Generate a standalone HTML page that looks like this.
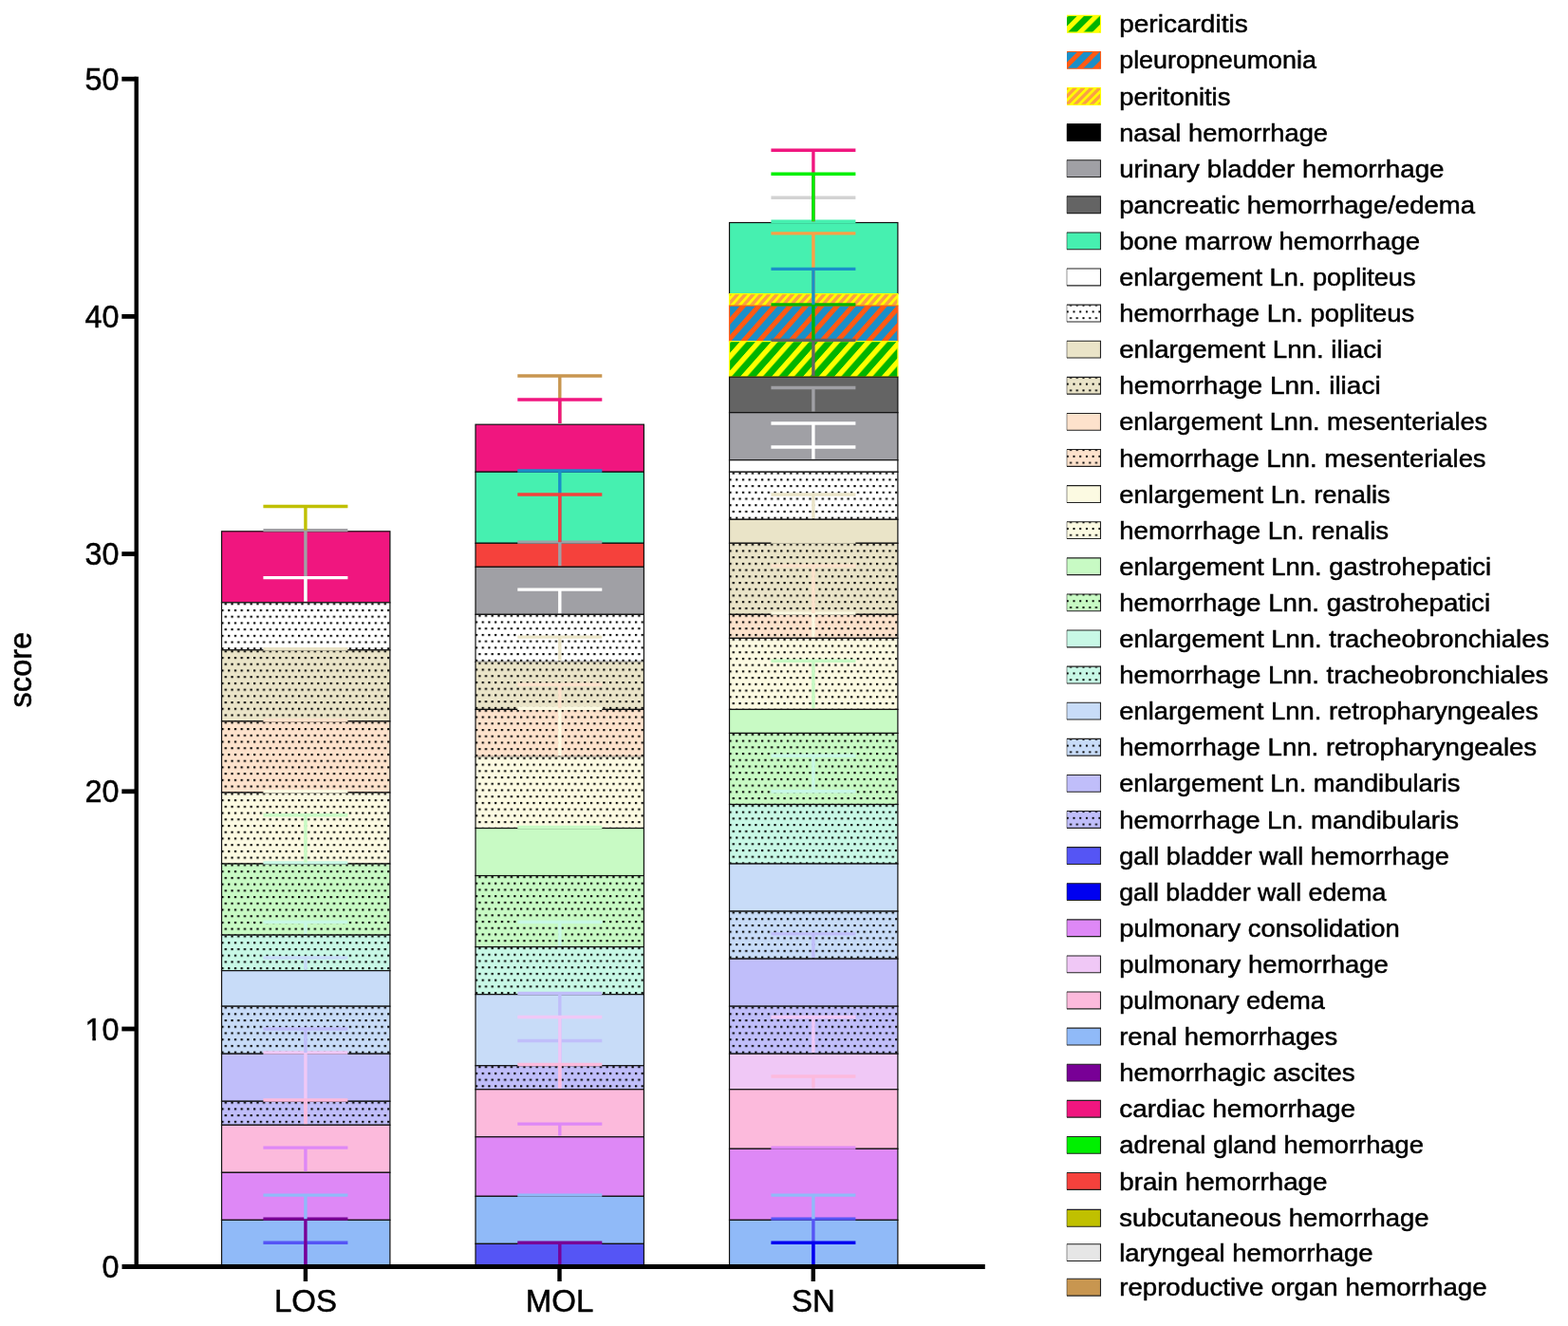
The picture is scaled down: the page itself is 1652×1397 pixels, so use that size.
<!DOCTYPE html>
<html><head><meta charset="utf-8"><title>score</title>
<style>
html,body{margin:0;padding:0;background:#fff;}
body{width:1652px;height:1397px;overflow:hidden;}
svg{display:block;}
text{font-family:"Liberation Sans",Arial,Helvetica,sans-serif;fill:#000;stroke:#000;stroke-width:0.5px;}
</style></head><body>
<svg width="1652" height="1397" viewBox="0 0 1652 1397">
<defs>

<pattern id="h_pericarditis" patternUnits="userSpaceOnUse" width="16.5" height="40" patternTransform="translate(780.2,359.12) skewX(-41.5)"><rect width="16.5" height="40" fill="#00B400"/><rect x="0" width="7.26" height="40" fill="#FFFF00"/></pattern>
<pattern id="h_pleuro" patternUnits="userSpaceOnUse" width="16.5" height="40" patternTransform="translate(780.2,321.59) skewX(-41.5)"><rect width="16.5" height="40" fill="#1A8FC8"/><rect x="0" width="6.93" height="40" fill="#FF5A14"/></pattern>
<pattern id="h_peritonitis" patternUnits="userSpaceOnUse" width="8.3" height="40" patternTransform="translate(780.2,309.08) skewX(-41.5)"><rect width="8.3" height="40" fill="#FAA046"/><rect x="0" width="3.74" height="40" fill="#FFFF00"/></pattern>
</defs>
<rect width="1652" height="1397" fill="#fff"/>

<rect x="233.50" y="559.78" width="177.4" height="75.06" fill="#F0167F"/>
<rect x="233.50" y="559.78" width="177.4" height="75.06" fill="none" stroke="#111" stroke-width="1.2"/>
<rect x="233.50" y="634.84" width="177.4" height="50.04" fill="url(#d0)"/>
<rect x="233.50" y="634.84" width="177.4" height="50.04" fill="none" stroke="#111" stroke-width="1.2"/>
<rect x="233.50" y="684.88" width="177.4" height="75.06" fill="url(#d1)"/>
<rect x="233.50" y="684.88" width="177.4" height="75.06" fill="none" stroke="#111" stroke-width="1.2"/>
<rect x="233.50" y="759.94" width="177.4" height="75.06" fill="url(#d2)"/>
<rect x="233.50" y="759.94" width="177.4" height="75.06" fill="none" stroke="#111" stroke-width="1.2"/>
<rect x="233.50" y="835.00" width="177.4" height="75.06" fill="url(#d3)"/>
<rect x="233.50" y="835.00" width="177.4" height="75.06" fill="none" stroke="#111" stroke-width="1.2"/>
<rect x="233.50" y="910.06" width="177.4" height="75.06" fill="url(#d4)"/>
<rect x="233.50" y="910.06" width="177.4" height="75.06" fill="none" stroke="#111" stroke-width="1.2"/>
<rect x="233.50" y="985.12" width="177.4" height="37.53" fill="url(#d5)"/>
<rect x="233.50" y="985.12" width="177.4" height="37.53" fill="none" stroke="#111" stroke-width="1.2"/>
<rect x="233.50" y="1022.65" width="177.4" height="37.53" fill="#C8DCF8"/>
<rect x="233.50" y="1022.65" width="177.4" height="37.53" fill="none" stroke="#111" stroke-width="1.2"/>
<rect x="233.50" y="1060.18" width="177.4" height="50.04" fill="url(#d6)"/>
<rect x="233.50" y="1060.18" width="177.4" height="50.04" fill="none" stroke="#111" stroke-width="1.2"/>
<rect x="233.50" y="1110.22" width="177.4" height="50.04" fill="#C0BEFA"/>
<rect x="233.50" y="1110.22" width="177.4" height="50.04" fill="none" stroke="#111" stroke-width="1.2"/>
<rect x="233.50" y="1160.26" width="177.4" height="25.02" fill="url(#d7)"/>
<rect x="233.50" y="1160.26" width="177.4" height="25.02" fill="none" stroke="#111" stroke-width="1.2"/>
<rect x="233.50" y="1185.28" width="177.4" height="50.04" fill="#FCBADC"/>
<rect x="233.50" y="1185.28" width="177.4" height="50.04" fill="none" stroke="#111" stroke-width="1.2"/>
<rect x="233.50" y="1235.32" width="177.4" height="50.04" fill="#DE88F6"/>
<rect x="233.50" y="1235.32" width="177.4" height="50.04" fill="none" stroke="#111" stroke-width="1.2"/>
<rect x="233.50" y="1285.36" width="177.4" height="50.04" fill="#90BAF8"/>
<rect x="233.50" y="1285.36" width="177.4" height="50.04" fill="none" stroke="#111" stroke-width="1.2"/>
<rect x="501.00" y="447.19" width="177.4" height="50.04" fill="#F0167F"/>
<rect x="501.00" y="447.19" width="177.4" height="50.04" fill="none" stroke="#111" stroke-width="1.2"/>
<rect x="501.00" y="497.23" width="177.4" height="75.06" fill="#46F0B0"/>
<rect x="501.00" y="497.23" width="177.4" height="75.06" fill="none" stroke="#111" stroke-width="1.2"/>
<rect x="501.00" y="572.29" width="177.4" height="25.02" fill="#F5413C"/>
<rect x="501.00" y="572.29" width="177.4" height="25.02" fill="none" stroke="#111" stroke-width="1.2"/>
<rect x="501.00" y="597.31" width="177.4" height="50.04" fill="#A0A0A5"/>
<rect x="501.00" y="597.31" width="177.4" height="50.04" fill="none" stroke="#111" stroke-width="1.2"/>
<rect x="501.00" y="647.35" width="177.4" height="50.04" fill="url(#d8)"/>
<rect x="501.00" y="647.35" width="177.4" height="50.04" fill="none" stroke="#111" stroke-width="1.2"/>
<rect x="501.00" y="697.39" width="177.4" height="50.04" fill="url(#d9)"/>
<rect x="501.00" y="697.39" width="177.4" height="50.04" fill="none" stroke="#111" stroke-width="1.2"/>
<rect x="501.00" y="747.43" width="177.4" height="50.04" fill="url(#d10)"/>
<rect x="501.00" y="747.43" width="177.4" height="50.04" fill="none" stroke="#111" stroke-width="1.2"/>
<rect x="501.00" y="797.47" width="177.4" height="75.06" fill="url(#d11)"/>
<rect x="501.00" y="797.47" width="177.4" height="75.06" fill="none" stroke="#111" stroke-width="1.2"/>
<rect x="501.00" y="872.53" width="177.4" height="50.04" fill="#C8FAC4"/>
<rect x="501.00" y="872.53" width="177.4" height="50.04" fill="none" stroke="#111" stroke-width="1.2"/>
<rect x="501.00" y="922.57" width="177.4" height="75.06" fill="url(#d12)"/>
<rect x="501.00" y="922.57" width="177.4" height="75.06" fill="none" stroke="#111" stroke-width="1.2"/>
<rect x="501.00" y="997.63" width="177.4" height="50.04" fill="url(#d13)"/>
<rect x="501.00" y="997.63" width="177.4" height="50.04" fill="none" stroke="#111" stroke-width="1.2"/>
<rect x="501.00" y="1047.67" width="177.4" height="75.06" fill="#C8DCF8"/>
<rect x="501.00" y="1047.67" width="177.4" height="75.06" fill="none" stroke="#111" stroke-width="1.2"/>
<rect x="501.00" y="1122.73" width="177.4" height="25.02" fill="url(#d14)"/>
<rect x="501.00" y="1122.73" width="177.4" height="25.02" fill="none" stroke="#111" stroke-width="1.2"/>
<rect x="501.00" y="1147.75" width="177.4" height="50.04" fill="#FCBADC"/>
<rect x="501.00" y="1147.75" width="177.4" height="50.04" fill="none" stroke="#111" stroke-width="1.2"/>
<rect x="501.00" y="1197.79" width="177.4" height="62.55" fill="#DE88F6"/>
<rect x="501.00" y="1197.79" width="177.4" height="62.55" fill="none" stroke="#111" stroke-width="1.2"/>
<rect x="501.00" y="1260.34" width="177.4" height="50.04" fill="#90BAF8"/>
<rect x="501.00" y="1260.34" width="177.4" height="50.04" fill="none" stroke="#111" stroke-width="1.2"/>
<rect x="501.00" y="1310.38" width="177.4" height="25.02" fill="#5555F5"/>
<rect x="501.00" y="1310.38" width="177.4" height="25.02" fill="none" stroke="#111" stroke-width="1.2"/>
<rect x="501.65" y="796.77" width="176.10" height="0.7" fill="url(#d15)"/>
<rect x="501.65" y="797.47" width="176.10" height="0.7" fill="url(#d16)"/>
<rect x="501.65" y="696.69" width="176.10" height="0.7" fill="url(#d17)"/>
<rect x="501.65" y="697.39" width="176.10" height="0.7" fill="url(#d18)"/>
<rect x="768.50" y="234.52" width="177.4" height="75.06" fill="#46F0B0"/>
<rect x="768.50" y="234.52" width="177.4" height="75.06" fill="none" stroke="#111" stroke-width="1.2"/>
<rect x="768.50" y="309.58" width="177.4" height="12.51" fill="url(#h_peritonitis)"/>
<rect x="768.50" y="309.58" width="177.4" height="12.51" fill="none" stroke="#FFFF00" stroke-width="1.2"/>
<rect x="768.50" y="322.09" width="177.4" height="37.53" fill="url(#h_pleuro)"/>
<rect x="768.50" y="322.09" width="177.4" height="37.53" fill="none" stroke="#FF5A14" stroke-width="1.2"/>
<rect x="768.50" y="359.62" width="177.4" height="37.53" fill="url(#h_pericarditis)"/>
<rect x="768.50" y="359.62" width="177.4" height="37.53" fill="none" stroke="#FFFF00" stroke-width="1.2"/>
<rect x="768.50" y="397.15" width="177.4" height="37.53" fill="#646464"/>
<rect x="768.50" y="397.15" width="177.4" height="37.53" fill="none" stroke="#111" stroke-width="1.2"/>
<rect x="768.50" y="434.68" width="177.4" height="50.04" fill="#A0A0A5"/>
<rect x="768.50" y="434.68" width="177.4" height="50.04" fill="none" stroke="#111" stroke-width="1.2"/>
<rect x="768.50" y="484.72" width="177.4" height="12.51" fill="#FFFFFF"/>
<rect x="768.50" y="484.72" width="177.4" height="12.51" fill="none" stroke="#111" stroke-width="1.2"/>
<rect x="768.50" y="497.23" width="177.4" height="50.04" fill="url(#d19)"/>
<rect x="768.50" y="497.23" width="177.4" height="50.04" fill="none" stroke="#111" stroke-width="1.2"/>
<rect x="768.50" y="547.27" width="177.4" height="25.02" fill="#EAE4C8"/>
<rect x="768.50" y="547.27" width="177.4" height="25.02" fill="none" stroke="#111" stroke-width="1.2"/>
<rect x="768.50" y="572.29" width="177.4" height="75.06" fill="url(#d20)"/>
<rect x="768.50" y="572.29" width="177.4" height="75.06" fill="none" stroke="#111" stroke-width="1.2"/>
<rect x="768.50" y="647.35" width="177.4" height="25.02" fill="url(#d21)"/>
<rect x="768.50" y="647.35" width="177.4" height="25.02" fill="none" stroke="#111" stroke-width="1.2"/>
<rect x="768.50" y="672.37" width="177.4" height="75.06" fill="url(#d22)"/>
<rect x="768.50" y="672.37" width="177.4" height="75.06" fill="none" stroke="#111" stroke-width="1.2"/>
<rect x="768.50" y="747.43" width="177.4" height="25.02" fill="#C8FAC4"/>
<rect x="768.50" y="747.43" width="177.4" height="25.02" fill="none" stroke="#111" stroke-width="1.2"/>
<rect x="768.50" y="772.45" width="177.4" height="75.06" fill="url(#d23)"/>
<rect x="768.50" y="772.45" width="177.4" height="75.06" fill="none" stroke="#111" stroke-width="1.2"/>
<rect x="768.50" y="847.51" width="177.4" height="62.55" fill="url(#d24)"/>
<rect x="768.50" y="847.51" width="177.4" height="62.55" fill="none" stroke="#111" stroke-width="1.2"/>
<rect x="768.50" y="910.06" width="177.4" height="50.04" fill="#C8DCF8"/>
<rect x="768.50" y="910.06" width="177.4" height="50.04" fill="none" stroke="#111" stroke-width="1.2"/>
<rect x="768.50" y="960.10" width="177.4" height="50.04" fill="url(#d25)"/>
<rect x="768.50" y="960.10" width="177.4" height="50.04" fill="none" stroke="#111" stroke-width="1.2"/>
<rect x="768.50" y="1010.14" width="177.4" height="50.04" fill="#C0BEFA"/>
<rect x="768.50" y="1010.14" width="177.4" height="50.04" fill="none" stroke="#111" stroke-width="1.2"/>
<rect x="768.50" y="1060.18" width="177.4" height="50.04" fill="url(#d26)"/>
<rect x="768.50" y="1060.18" width="177.4" height="50.04" fill="none" stroke="#111" stroke-width="1.2"/>
<rect x="768.50" y="1110.22" width="177.4" height="37.53" fill="#F0C8F6"/>
<rect x="768.50" y="1110.22" width="177.4" height="37.53" fill="none" stroke="#111" stroke-width="1.2"/>
<rect x="768.50" y="1147.75" width="177.4" height="62.55" fill="#FCBADC"/>
<rect x="768.50" y="1147.75" width="177.4" height="62.55" fill="none" stroke="#111" stroke-width="1.2"/>
<rect x="768.50" y="1210.30" width="177.4" height="75.06" fill="#DE88F6"/>
<rect x="768.50" y="1210.30" width="177.4" height="75.06" fill="none" stroke="#111" stroke-width="1.2"/>
<rect x="768.50" y="1285.36" width="177.4" height="50.04" fill="#90BAF8"/>
<rect x="768.50" y="1285.36" width="177.4" height="50.04" fill="none" stroke="#111" stroke-width="1.2"/>
<line x1="321.90" y1="1334.20" x2="321.90" y2="1309.18" stroke="#5555F5" stroke-width="3.4"/>
<line x1="277.40" y1="1309.18" x2="366.40" y2="1309.18" stroke="#5555F5" stroke-width="3.4"/>
<line x1="321.90" y1="1334.20" x2="321.90" y2="1284.16" stroke="#780096" stroke-width="3.4"/>
<line x1="277.40" y1="1284.16" x2="366.40" y2="1284.16" stroke="#780096" stroke-width="3.4"/>
<line x1="321.90" y1="1284.16" x2="321.90" y2="1259.14" stroke="#90BAF8" stroke-width="3.4"/>
<line x1="277.40" y1="1259.14" x2="366.40" y2="1259.14" stroke="#90BAF8" stroke-width="3.4"/>
<line x1="321.90" y1="1234.12" x2="321.90" y2="1209.10" stroke="#DE88F6" stroke-width="3.4"/>
<line x1="277.40" y1="1209.10" x2="366.40" y2="1209.10" stroke="#DE88F6" stroke-width="3.4"/>
<line x1="321.90" y1="1184.08" x2="321.90" y2="1109.02" stroke="#F0C8F6" stroke-width="3.4"/>
<line x1="277.40" y1="1109.02" x2="366.40" y2="1109.02" stroke="#F0C8F6" stroke-width="3.4"/>
<line x1="321.90" y1="1184.08" x2="321.90" y2="1159.06" stroke="#FCBADC" stroke-width="3.4"/>
<line x1="277.40" y1="1159.06" x2="366.40" y2="1159.06" stroke="#FCBADC" stroke-width="3.4"/>
<line x1="321.90" y1="1109.02" x2="321.90" y2="1084.00" stroke="#C0BEFA" stroke-width="3.4"/>
<line x1="277.40" y1="1084.00" x2="366.40" y2="1084.00" stroke="#C0BEFA" stroke-width="3.4"/>
<line x1="321.90" y1="1021.45" x2="321.90" y2="1008.94" stroke="#C8DCF8" stroke-width="3.4"/>
<line x1="277.40" y1="1008.94" x2="366.40" y2="1008.94" stroke="#C8DCF8" stroke-width="3.4"/>
<line x1="321.90" y1="983.92" x2="321.90" y2="971.41" stroke="#C8F8E6" stroke-width="3.4"/>
<line x1="277.40" y1="971.41" x2="366.40" y2="971.41" stroke="#C8F8E6" stroke-width="3.4"/>
<line x1="277.40" y1="908.86" x2="366.40" y2="908.86" stroke="#C8F8E6" stroke-width="3.4"/>
<line x1="321.90" y1="908.86" x2="321.90" y2="858.82" stroke="#C8FAC4" stroke-width="3.4"/>
<line x1="277.40" y1="858.82" x2="366.40" y2="858.82" stroke="#C8FAC4" stroke-width="3.4"/>
<line x1="277.40" y1="833.80" x2="366.40" y2="833.80" stroke="#FCFAE2" stroke-width="3.4"/>
<line x1="277.40" y1="758.74" x2="366.40" y2="758.74" stroke="#FDE2CC" stroke-width="3.4"/>
<line x1="277.40" y1="683.68" x2="366.40" y2="683.68" stroke="#EAE4C8" stroke-width="3.4"/>
<line x1="321.90" y1="633.64" x2="321.90" y2="558.58" stroke="#A0A0A5" stroke-width="3.4"/>
<line x1="277.40" y1="558.58" x2="366.40" y2="558.58" stroke="#A0A0A5" stroke-width="3.4"/>
<line x1="321.90" y1="633.64" x2="321.90" y2="608.62" stroke="#FFFFFF" stroke-width="3.4"/>
<line x1="277.40" y1="608.62" x2="366.40" y2="608.62" stroke="#FFFFFF" stroke-width="3.4"/>
<line x1="321.90" y1="558.58" x2="321.90" y2="533.56" stroke="#C0C000" stroke-width="3.4"/>
<line x1="277.40" y1="533.56" x2="366.40" y2="533.56" stroke="#C0C000" stroke-width="3.4"/>
<line x1="589.80" y1="1334.20" x2="589.80" y2="1309.18" stroke="#780096" stroke-width="3.4"/>
<line x1="545.30" y1="1309.18" x2="634.30" y2="1309.18" stroke="#780096" stroke-width="3.4"/>
<line x1="545.30" y1="1259.14" x2="634.30" y2="1259.14" stroke="#90BAF8" stroke-width="3.4"/>
<line x1="589.80" y1="1196.59" x2="589.80" y2="1184.08" stroke="#DE88F6" stroke-width="3.4"/>
<line x1="545.30" y1="1184.08" x2="634.30" y2="1184.08" stroke="#DE88F6" stroke-width="3.4"/>
<line x1="589.80" y1="1121.53" x2="589.80" y2="1096.51" stroke="#C0BEFA" stroke-width="3.4"/>
<line x1="545.30" y1="1096.51" x2="634.30" y2="1096.51" stroke="#C0BEFA" stroke-width="3.4"/>
<line x1="589.80" y1="1121.53" x2="589.80" y2="1046.47" stroke="#C0BEFA" stroke-width="3.4"/>
<line x1="545.30" y1="1046.47" x2="634.30" y2="1046.47" stroke="#C0BEFA" stroke-width="3.4"/>
<line x1="589.80" y1="1146.55" x2="589.80" y2="1071.49" stroke="#F0C8F6" stroke-width="3.4"/>
<line x1="545.30" y1="1071.49" x2="634.30" y2="1071.49" stroke="#F0C8F6" stroke-width="3.4"/>
<line x1="589.80" y1="1146.55" x2="589.80" y2="1121.53" stroke="#FCBADC" stroke-width="3.4"/>
<line x1="545.30" y1="1121.53" x2="634.30" y2="1121.53" stroke="#FCBADC" stroke-width="3.4"/>
<line x1="589.80" y1="996.43" x2="589.80" y2="971.41" stroke="#C8F8E6" stroke-width="3.4"/>
<line x1="545.30" y1="971.41" x2="634.30" y2="971.41" stroke="#C8F8E6" stroke-width="3.4"/>
<line x1="545.30" y1="871.33" x2="634.30" y2="871.33" stroke="#C8FAC4" stroke-width="3.4"/>
<line x1="589.80" y1="796.27" x2="589.80" y2="746.23" stroke="#FCFAE2" stroke-width="3.4"/>
<line x1="545.30" y1="746.23" x2="634.30" y2="746.23" stroke="#FCFAE2" stroke-width="3.4"/>
<line x1="589.80" y1="746.23" x2="589.80" y2="721.21" stroke="#FDE2CC" stroke-width="3.4"/>
<line x1="545.30" y1="721.21" x2="634.30" y2="721.21" stroke="#FDE2CC" stroke-width="3.4"/>
<line x1="589.80" y1="696.19" x2="589.80" y2="671.17" stroke="#EAE4C8" stroke-width="3.4"/>
<line x1="545.30" y1="671.17" x2="634.30" y2="671.17" stroke="#EAE4C8" stroke-width="3.4"/>
<line x1="589.80" y1="646.15" x2="589.80" y2="621.13" stroke="#FFFFFF" stroke-width="3.4"/>
<line x1="545.30" y1="621.13" x2="634.30" y2="621.13" stroke="#FFFFFF" stroke-width="3.4"/>
<line x1="589.80" y1="596.11" x2="589.80" y2="571.09" stroke="#A0A0A5" stroke-width="3.4"/>
<line x1="545.30" y1="571.09" x2="634.30" y2="571.09" stroke="#A0A0A5" stroke-width="3.4"/>
<line x1="589.80" y1="571.09" x2="589.80" y2="496.03" stroke="#1A8FC8" stroke-width="3.4"/>
<line x1="545.30" y1="496.03" x2="634.30" y2="496.03" stroke="#1A8FC8" stroke-width="3.4"/>
<line x1="589.80" y1="571.09" x2="589.80" y2="521.05" stroke="#F5413C" stroke-width="3.4"/>
<line x1="545.30" y1="521.05" x2="634.30" y2="521.05" stroke="#F5413C" stroke-width="3.4"/>
<line x1="589.80" y1="445.99" x2="589.80" y2="395.95" stroke="#C89650" stroke-width="3.4"/>
<line x1="545.30" y1="395.95" x2="634.30" y2="395.95" stroke="#C89650" stroke-width="3.4"/>
<line x1="589.80" y1="445.99" x2="589.80" y2="420.97" stroke="#F0167F" stroke-width="3.4"/>
<line x1="545.30" y1="420.97" x2="634.30" y2="420.97" stroke="#F0167F" stroke-width="3.4"/>
<line x1="856.90" y1="1334.20" x2="856.90" y2="1284.16" stroke="#5555F5" stroke-width="3.4"/>
<line x1="812.40" y1="1284.16" x2="901.40" y2="1284.16" stroke="#5555F5" stroke-width="3.4"/>
<line x1="856.90" y1="1334.20" x2="856.90" y2="1309.18" stroke="#0000F0" stroke-width="3.4"/>
<line x1="812.40" y1="1309.18" x2="901.40" y2="1309.18" stroke="#0000F0" stroke-width="3.4"/>
<line x1="856.90" y1="1284.16" x2="856.90" y2="1259.14" stroke="#90BAF8" stroke-width="3.4"/>
<line x1="812.40" y1="1259.14" x2="901.40" y2="1259.14" stroke="#90BAF8" stroke-width="3.4"/>
<line x1="812.40" y1="1209.10" x2="901.40" y2="1209.10" stroke="#DE88F6" stroke-width="3.4"/>
<line x1="856.90" y1="1146.55" x2="856.90" y2="1134.04" stroke="#FCBADC" stroke-width="3.4"/>
<line x1="812.40" y1="1134.04" x2="901.40" y2="1134.04" stroke="#FCBADC" stroke-width="3.4"/>
<line x1="856.90" y1="1109.02" x2="856.90" y2="1071.49" stroke="#F0C8F6" stroke-width="3.4"/>
<line x1="812.40" y1="1071.49" x2="901.40" y2="1071.49" stroke="#F0C8F6" stroke-width="3.4"/>
<line x1="856.90" y1="1008.94" x2="856.90" y2="983.92" stroke="#C0BEFA" stroke-width="3.4"/>
<line x1="812.40" y1="983.92" x2="901.40" y2="983.92" stroke="#C0BEFA" stroke-width="3.4"/>
<line x1="812.40" y1="833.80" x2="901.40" y2="833.80" stroke="#C8F8E6" stroke-width="3.4"/>
<line x1="856.90" y1="833.80" x2="856.90" y2="796.27" stroke="#C8F8E6" stroke-width="3.4"/>
<line x1="812.40" y1="796.27" x2="901.40" y2="796.27" stroke="#C8F8E6" stroke-width="3.4"/>
<line x1="856.90" y1="746.23" x2="856.90" y2="696.19" stroke="#C8FAC4" stroke-width="3.4"/>
<line x1="812.40" y1="696.19" x2="901.40" y2="696.19" stroke="#C8FAC4" stroke-width="3.4"/>
<line x1="856.90" y1="671.17" x2="856.90" y2="646.15" stroke="#FCFAE2" stroke-width="3.4"/>
<line x1="812.40" y1="646.15" x2="901.40" y2="646.15" stroke="#FCFAE2" stroke-width="3.4"/>
<line x1="856.90" y1="646.15" x2="856.90" y2="596.11" stroke="#FDE2CC" stroke-width="3.4"/>
<line x1="812.40" y1="596.11" x2="901.40" y2="596.11" stroke="#FDE2CC" stroke-width="3.4"/>
<line x1="812.40" y1="571.09" x2="901.40" y2="571.09" stroke="#EAE4C8" stroke-width="3.4"/>
<line x1="856.90" y1="546.07" x2="856.90" y2="521.05" stroke="#EAE4C8" stroke-width="3.4"/>
<line x1="812.40" y1="521.05" x2="901.40" y2="521.05" stroke="#EAE4C8" stroke-width="3.4"/>
<line x1="856.90" y1="483.52" x2="856.90" y2="445.99" stroke="#FFFFFF" stroke-width="3.4"/>
<line x1="812.40" y1="445.99" x2="901.40" y2="445.99" stroke="#FFFFFF" stroke-width="3.4"/>
<line x1="812.40" y1="471.01" x2="901.40" y2="471.01" stroke="#FFFFFF" stroke-width="3.4"/>
<line x1="856.90" y1="433.48" x2="856.90" y2="408.46" stroke="#A0A0A5" stroke-width="3.4"/>
<line x1="812.40" y1="408.46" x2="901.40" y2="408.46" stroke="#A0A0A5" stroke-width="3.4"/>
<line x1="856.90" y1="395.95" x2="856.90" y2="358.42" stroke="#646464" stroke-width="3.4"/>
<line x1="812.40" y1="358.42" x2="901.40" y2="358.42" stroke="#646464" stroke-width="3.4"/>
<line x1="856.90" y1="358.42" x2="856.90" y2="320.89" stroke="#00B400" stroke-width="3.4"/>
<line x1="812.40" y1="320.89" x2="901.40" y2="320.89" stroke="#00B400" stroke-width="3.4"/>
<line x1="856.90" y1="308.38" x2="856.90" y2="245.83" stroke="#FAA046" stroke-width="3.4"/>
<line x1="812.40" y1="245.83" x2="901.40" y2="245.83" stroke="#FAA046" stroke-width="3.4"/>
<line x1="856.90" y1="320.89" x2="856.90" y2="283.36" stroke="#1A8FC8" stroke-width="3.4"/>
<line x1="812.40" y1="283.36" x2="901.40" y2="283.36" stroke="#1A8FC8" stroke-width="3.4"/>
<line x1="812.40" y1="233.32" x2="901.40" y2="233.32" stroke="#46F0B0" stroke-width="3.4"/>
<line x1="856.90" y1="233.32" x2="856.90" y2="208.30" stroke="#D2D2D2" stroke-width="3.4"/>
<line x1="812.40" y1="208.30" x2="901.40" y2="208.30" stroke="#D2D2D2" stroke-width="3.4"/>
<line x1="856.90" y1="233.32" x2="856.90" y2="158.26" stroke="#F0167F" stroke-width="3.4"/>
<line x1="812.40" y1="158.26" x2="901.40" y2="158.26" stroke="#F0167F" stroke-width="3.4"/>
<line x1="856.90" y1="233.32" x2="856.90" y2="183.28" stroke="#00F000" stroke-width="3.4"/>
<line x1="812.40" y1="183.28" x2="901.40" y2="183.28" stroke="#00F000" stroke-width="3.4"/>
<line x1="143.7" y1="80.8" x2="143.7" y2="1336.8" stroke="#000" stroke-width="4.4"/>
<line x1="128.5" y1="1334.55" x2="1037.8" y2="1334.55" stroke="#000" stroke-width="4.9"/>
<text x="125.5" y="1345.70" font-size="32.3" text-anchor="end">0</text>
<line x1="128.3" y1="1084.00" x2="143.7" y2="1084.00" stroke="#000" stroke-width="4.8"/>
<text x="125.5" y="1095.50" font-size="32.3" text-anchor="end">10</text>
<rect x="90.38" y="1092.10" width="6.96" height="5.2" fill="#fff"/>
<rect x="100.88" y="1092.10" width="6.30" height="5.2" fill="#fff"/>
<line x1="128.3" y1="833.80" x2="143.7" y2="833.80" stroke="#000" stroke-width="4.8"/>
<text x="125.5" y="845.30" font-size="32.3" text-anchor="end">20</text>
<line x1="128.3" y1="583.60" x2="143.7" y2="583.60" stroke="#000" stroke-width="4.8"/>
<text x="125.5" y="595.10" font-size="32.3" text-anchor="end">30</text>
<line x1="128.3" y1="333.40" x2="143.7" y2="333.40" stroke="#000" stroke-width="4.8"/>
<text x="125.5" y="344.90" font-size="32.3" text-anchor="end">40</text>
<line x1="128.3" y1="83.20" x2="143.7" y2="83.20" stroke="#000" stroke-width="4.8"/>
<text x="125.5" y="94.70" font-size="32.3" text-anchor="end">50</text>
<line x1="321.9" y1="1334" x2="321.9" y2="1350" stroke="#000" stroke-width="4.4"/>
<text x="321.9" y="1382" font-size="33" text-anchor="middle">LOS</text>
<line x1="589.5" y1="1334" x2="589.5" y2="1350" stroke="#000" stroke-width="4.4"/>
<text x="589.5" y="1382" font-size="33" text-anchor="middle">MOL</text>
<line x1="856.8" y1="1334" x2="856.8" y2="1350" stroke="#000" stroke-width="4.4"/>
<text x="856.8" y="1382" font-size="33" text-anchor="middle">SN</text>
<text transform="translate(32.5,705.6) rotate(-90)" font-size="32.6" text-anchor="middle">score</text>
<rect x="1124" y="16.33" width="35.5" height="17.8" fill="url(#lh_pericarditis)"/>
<path d="M1124,16.33H1159.5V34.13H1124" fill="none" stroke="#FFFF00" stroke-width="1.1"/>
<text x="1179.2" y="34.33" font-size="26.5" textLength="135.51" lengthAdjust="spacingAndGlyphs">pericarditis</text>
<rect x="1124" y="54.43" width="35.5" height="17.8" fill="url(#lh_pleuro)"/>
<path d="M1124,54.43H1159.5V72.23H1124" fill="none" stroke="#FF5A14" stroke-width="1.1"/>
<text x="1179.2" y="72.43" font-size="26.5" textLength="207.7" lengthAdjust="spacingAndGlyphs">pleuropneumonia</text>
<rect x="1124" y="92.53" width="35.5" height="17.8" fill="url(#lh_peritonitis)"/>
<path d="M1124,92.53H1159.5V110.33H1124" fill="none" stroke="#FFFF00" stroke-width="1.1"/>
<text x="1179.2" y="110.53" font-size="26.5" textLength="117.19" lengthAdjust="spacingAndGlyphs">peritonitis</text>
<rect x="1124" y="130.63" width="35.5" height="17.8" fill="#000000"/>
<path d="M1124,130.63H1159.5V148.43H1124" fill="none" stroke="#222" stroke-width="1.1"/>
<path d="M1124,130.63V148.43" fill="none" stroke="#222" stroke-width="0.9" stroke-opacity="0.55"/>
<text x="1179.2" y="148.63" font-size="26.5" textLength="219.85" lengthAdjust="spacingAndGlyphs">nasal hemorrhage</text>
<rect x="1124" y="168.73" width="35.5" height="17.8" fill="#A0A0A5"/>
<path d="M1124,168.73H1159.5V186.53H1124" fill="none" stroke="#222" stroke-width="1.1"/>
<path d="M1124,168.73V186.53" fill="none" stroke="#222" stroke-width="0.9" stroke-opacity="0.55"/>
<text x="1179.2" y="186.73" font-size="26.5" textLength="342.38" lengthAdjust="spacingAndGlyphs">urinary bladder hemorrhage</text>
<rect x="1124" y="206.83" width="35.5" height="17.8" fill="#646464"/>
<path d="M1124,206.83H1159.5V224.63H1124" fill="none" stroke="#222" stroke-width="1.1"/>
<path d="M1124,206.83V224.63" fill="none" stroke="#222" stroke-width="0.9" stroke-opacity="0.55"/>
<text x="1179.2" y="224.83" font-size="26.5" textLength="374.83" lengthAdjust="spacingAndGlyphs">pancreatic hemorrhage/edema</text>
<rect x="1124" y="244.93" width="35.5" height="17.8" fill="#46F0B0"/>
<path d="M1124,244.93H1159.5V262.73H1124" fill="none" stroke="#222" stroke-width="1.1"/>
<path d="M1124,244.93V262.73" fill="none" stroke="#222" stroke-width="0.9" stroke-opacity="0.55"/>
<text x="1179.2" y="262.93" font-size="26.5" textLength="316.82" lengthAdjust="spacingAndGlyphs">bone marrow hemorrhage</text>
<rect x="1124" y="283.03" width="35.5" height="17.8" fill="#FFFFFF"/>
<path d="M1124,283.03H1159.5V300.83H1124" fill="none" stroke="#222" stroke-width="1.1"/>
<path d="M1124,283.03V300.83" fill="none" stroke="#222" stroke-width="0.9" stroke-opacity="0.55"/>
<text x="1179.2" y="301.03" font-size="26.5" textLength="312.35" lengthAdjust="spacingAndGlyphs">enlargement Ln. popliteus</text>
<rect x="1124" y="321.13" width="35.5" height="17.8" fill="url(#ld8)"/>
<path d="M1124,321.13H1159.5V338.93H1124" fill="none" stroke="#222" stroke-width="1.1"/>
<path d="M1124,321.13V338.93" fill="none" stroke="#222" stroke-width="0.9" stroke-opacity="0.55"/>
<text x="1179.2" y="339.13" font-size="26.5" textLength="311.07" lengthAdjust="spacingAndGlyphs">hemorrhage Ln. popliteus</text>
<rect x="1124" y="359.23" width="35.5" height="17.8" fill="#EAE4C8"/>
<path d="M1124,359.23H1159.5V377.03H1124" fill="none" stroke="#222" stroke-width="1.1"/>
<path d="M1124,359.23V377.03" fill="none" stroke="#222" stroke-width="0.9" stroke-opacity="0.55"/>
<text x="1179.2" y="377.23" font-size="26.5" textLength="276.99" lengthAdjust="spacingAndGlyphs">enlargement Lnn. iliaci</text>
<rect x="1124" y="397.33" width="35.5" height="17.8" fill="url(#ld10)"/>
<path d="M1124,397.33H1159.5V415.13H1124" fill="none" stroke="#222" stroke-width="1.1"/>
<path d="M1124,397.33V415.13" fill="none" stroke="#222" stroke-width="0.9" stroke-opacity="0.55"/>
<text x="1179.2" y="415.33" font-size="26.5" textLength="275.44" lengthAdjust="spacingAndGlyphs">hemorrhage Lnn. iliaci</text>
<rect x="1124" y="435.43" width="35.5" height="17.8" fill="#FDE2CC"/>
<path d="M1124,435.43H1159.5V453.23H1124" fill="none" stroke="#222" stroke-width="1.1"/>
<path d="M1124,435.43V453.23" fill="none" stroke="#222" stroke-width="0.9" stroke-opacity="0.55"/>
<text x="1179.2" y="453.43" font-size="26.5" textLength="387.95" lengthAdjust="spacingAndGlyphs">enlargement Lnn. mesenteriales</text>
<rect x="1124" y="473.53" width="35.5" height="17.8" fill="url(#ld12)"/>
<path d="M1124,473.53H1159.5V491.33H1124" fill="none" stroke="#222" stroke-width="1.1"/>
<path d="M1124,473.53V491.33" fill="none" stroke="#222" stroke-width="0.9" stroke-opacity="0.55"/>
<text x="1179.2" y="491.53" font-size="26.5" textLength="386.37" lengthAdjust="spacingAndGlyphs">hemorrhage Lnn. mesenteriales</text>
<rect x="1124" y="511.63" width="35.5" height="17.8" fill="#FCFAE2"/>
<path d="M1124,511.63H1159.5V529.43H1124" fill="none" stroke="#222" stroke-width="1.1"/>
<path d="M1124,511.63V529.43" fill="none" stroke="#222" stroke-width="0.9" stroke-opacity="0.55"/>
<text x="1179.2" y="529.63" font-size="26.5" textLength="285.5" lengthAdjust="spacingAndGlyphs">enlargement Ln. renalis</text>
<rect x="1124" y="549.73" width="35.5" height="17.8" fill="url(#ld14)"/>
<path d="M1124,549.73H1159.5V567.53H1124" fill="none" stroke="#222" stroke-width="1.1"/>
<path d="M1124,549.73V567.53" fill="none" stroke="#222" stroke-width="0.9" stroke-opacity="0.55"/>
<text x="1179.2" y="567.73" font-size="26.5" textLength="283.92" lengthAdjust="spacingAndGlyphs">hemorrhage Ln. renalis</text>
<rect x="1124" y="587.83" width="35.5" height="17.8" fill="#C8FAC4"/>
<path d="M1124,587.83H1159.5V605.63H1124" fill="none" stroke="#222" stroke-width="1.1"/>
<path d="M1124,587.83V605.63" fill="none" stroke="#222" stroke-width="0.9" stroke-opacity="0.55"/>
<text x="1179.2" y="605.83" font-size="26.5" textLength="392.0" lengthAdjust="spacingAndGlyphs">enlargement Lnn. gastrohepatici</text>
<rect x="1124" y="625.93" width="35.5" height="17.8" fill="url(#ld16)"/>
<path d="M1124,625.93H1159.5V643.73H1124" fill="none" stroke="#222" stroke-width="1.1"/>
<path d="M1124,625.93V643.73" fill="none" stroke="#222" stroke-width="0.9" stroke-opacity="0.55"/>
<text x="1179.2" y="643.93" font-size="26.5" textLength="390.93" lengthAdjust="spacingAndGlyphs">hemorrhage Lnn. gastrohepatici</text>
<rect x="1124" y="664.03" width="35.5" height="17.8" fill="#C8F8E6"/>
<path d="M1124,664.03H1159.5V681.83H1124" fill="none" stroke="#222" stroke-width="1.1"/>
<path d="M1124,664.03V681.83" fill="none" stroke="#222" stroke-width="0.9" stroke-opacity="0.55"/>
<text x="1179.2" y="682.03" font-size="26.5" textLength="452.94" lengthAdjust="spacingAndGlyphs">enlargement Lnn. tracheobronchiales</text>
<rect x="1124" y="702.13" width="35.5" height="17.8" fill="url(#ld18)"/>
<path d="M1124,702.13H1159.5V719.93H1124" fill="none" stroke="#222" stroke-width="1.1"/>
<path d="M1124,702.13V719.93" fill="none" stroke="#222" stroke-width="0.9" stroke-opacity="0.55"/>
<text x="1179.2" y="720.13" font-size="26.5" textLength="452.17" lengthAdjust="spacingAndGlyphs">hemorrhage Lnn. tracheobronchiales</text>
<rect x="1124" y="740.23" width="35.5" height="17.8" fill="#C8DCF8"/>
<path d="M1124,740.23H1159.5V758.03H1124" fill="none" stroke="#222" stroke-width="1.1"/>
<path d="M1124,740.23V758.03" fill="none" stroke="#222" stroke-width="0.9" stroke-opacity="0.55"/>
<text x="1179.2" y="758.23" font-size="26.5" textLength="441.54" lengthAdjust="spacingAndGlyphs">enlargement Lnn. retropharyngeales</text>
<rect x="1124" y="778.33" width="35.5" height="17.8" fill="url(#ld20)"/>
<path d="M1124,778.33H1159.5V796.13H1124" fill="none" stroke="#222" stroke-width="1.1"/>
<path d="M1124,778.33V796.13" fill="none" stroke="#222" stroke-width="0.9" stroke-opacity="0.55"/>
<text x="1179.2" y="796.33" font-size="26.5" textLength="439.97" lengthAdjust="spacingAndGlyphs">hemorrhage Lnn. retropharyngeales</text>
<rect x="1124" y="816.43" width="35.5" height="17.8" fill="#C0BEFA"/>
<path d="M1124,816.43H1159.5V834.23H1124" fill="none" stroke="#222" stroke-width="1.1"/>
<path d="M1124,816.43V834.23" fill="none" stroke="#222" stroke-width="0.9" stroke-opacity="0.55"/>
<text x="1179.2" y="834.43" font-size="26.5" textLength="359.29" lengthAdjust="spacingAndGlyphs">enlargement Ln. mandibularis</text>
<rect x="1124" y="854.53" width="35.5" height="17.8" fill="url(#ld22)"/>
<path d="M1124,854.53H1159.5V872.33H1124" fill="none" stroke="#222" stroke-width="1.1"/>
<path d="M1124,854.53V872.33" fill="none" stroke="#222" stroke-width="0.9" stroke-opacity="0.55"/>
<text x="1179.2" y="872.53" font-size="26.5" textLength="357.7" lengthAdjust="spacingAndGlyphs">hemorrhage Ln. mandibularis</text>
<rect x="1124" y="892.63" width="35.5" height="17.8" fill="#5555F5"/>
<path d="M1124,892.63H1159.5V910.43H1124" fill="none" stroke="#222" stroke-width="1.1"/>
<path d="M1124,892.63V910.43" fill="none" stroke="#222" stroke-width="0.9" stroke-opacity="0.55"/>
<text x="1179.2" y="910.63" font-size="26.5" textLength="347.59" lengthAdjust="spacingAndGlyphs">gall bladder wall hemorrhage</text>
<rect x="1124" y="930.73" width="35.5" height="17.8" fill="#0000F0"/>
<path d="M1124,930.73H1159.5V948.53H1124" fill="none" stroke="#222" stroke-width="1.1"/>
<path d="M1124,930.73V948.53" fill="none" stroke="#222" stroke-width="0.9" stroke-opacity="0.55"/>
<text x="1179.2" y="948.73" font-size="26.5" textLength="281.21" lengthAdjust="spacingAndGlyphs">gall bladder wall edema</text>
<rect x="1124" y="968.83" width="35.5" height="17.8" fill="#DE88F6"/>
<path d="M1124,968.83H1159.5V986.63H1124" fill="none" stroke="#222" stroke-width="1.1"/>
<path d="M1124,968.83V986.63" fill="none" stroke="#222" stroke-width="0.9" stroke-opacity="0.55"/>
<text x="1179.2" y="986.83" font-size="26.5" textLength="295.46" lengthAdjust="spacingAndGlyphs">pulmonary consolidation</text>
<rect x="1124" y="1006.93" width="35.5" height="17.8" fill="#F0C8F6"/>
<path d="M1124,1006.93H1159.5V1024.73H1124" fill="none" stroke="#222" stroke-width="1.1"/>
<path d="M1124,1006.93V1024.73" fill="none" stroke="#222" stroke-width="0.9" stroke-opacity="0.55"/>
<text x="1179.2" y="1024.93" font-size="26.5" textLength="283.62" lengthAdjust="spacingAndGlyphs">pulmonary hemorrhage</text>
<rect x="1124" y="1045.03" width="35.5" height="17.8" fill="#FCBADC"/>
<path d="M1124,1045.03H1159.5V1062.83H1124" fill="none" stroke="#222" stroke-width="1.1"/>
<path d="M1124,1045.03V1062.83" fill="none" stroke="#222" stroke-width="0.9" stroke-opacity="0.55"/>
<text x="1179.2" y="1063.03" font-size="26.5" textLength="216.61" lengthAdjust="spacingAndGlyphs">pulmonary edema</text>
<rect x="1124" y="1083.13" width="35.5" height="17.8" fill="#90BAF8"/>
<path d="M1124,1083.13H1159.5V1100.93H1124" fill="none" stroke="#222" stroke-width="1.1"/>
<path d="M1124,1083.13V1100.93" fill="none" stroke="#222" stroke-width="0.9" stroke-opacity="0.55"/>
<text x="1179.2" y="1101.13" font-size="26.5" textLength="230.02" lengthAdjust="spacingAndGlyphs">renal hemorrhages</text>
<rect x="1124" y="1121.23" width="35.5" height="17.8" fill="#780096"/>
<path d="M1124,1121.23H1159.5V1139.03H1124" fill="none" stroke="#222" stroke-width="1.1"/>
<path d="M1124,1121.23V1139.03" fill="none" stroke="#222" stroke-width="0.9" stroke-opacity="0.55"/>
<text x="1179.2" y="1139.23" font-size="26.5" textLength="248.4" lengthAdjust="spacingAndGlyphs">hemorrhagic ascites</text>
<rect x="1124" y="1159.33" width="35.5" height="17.8" fill="#F0167F"/>
<path d="M1124,1159.33H1159.5V1177.13H1124" fill="none" stroke="#222" stroke-width="1.1"/>
<path d="M1124,1159.33V1177.13" fill="none" stroke="#222" stroke-width="0.9" stroke-opacity="0.55"/>
<text x="1179.2" y="1177.33" font-size="26.5" textLength="248.91" lengthAdjust="spacingAndGlyphs">cardiac hemorrhage</text>
<rect x="1124" y="1197.43" width="35.5" height="17.8" fill="#00F000"/>
<path d="M1124,1197.43H1159.5V1215.23H1124" fill="none" stroke="#222" stroke-width="1.1"/>
<path d="M1124,1197.43V1215.23" fill="none" stroke="#222" stroke-width="0.9" stroke-opacity="0.55"/>
<text x="1179.2" y="1215.43" font-size="26.5" textLength="320.78" lengthAdjust="spacingAndGlyphs">adrenal gland hemorrhage</text>
<rect x="1124" y="1235.53" width="35.5" height="17.8" fill="#F5413C"/>
<path d="M1124,1235.53H1159.5V1253.33H1124" fill="none" stroke="#222" stroke-width="1.1"/>
<path d="M1124,1235.53V1253.33" fill="none" stroke="#222" stroke-width="0.9" stroke-opacity="0.55"/>
<text x="1179.2" y="1253.53" font-size="26.5" textLength="219.31" lengthAdjust="spacingAndGlyphs">brain hemorrhage</text>
<rect x="1124" y="1274.40" width="35.5" height="17.8" fill="#C0C000"/>
<path d="M1124,1274.40H1159.5V1292.20H1124" fill="none" stroke="#222" stroke-width="1.1"/>
<path d="M1124,1274.40V1292.20" fill="none" stroke="#222" stroke-width="0.9" stroke-opacity="0.55"/>
<text x="1179.2" y="1292.40" font-size="26.5" textLength="326.37" lengthAdjust="spacingAndGlyphs">subcutaneous hemorrhage</text>
<rect x="1124" y="1310.70" width="35.5" height="17.8" fill="#E6E6E6"/>
<path d="M1124,1310.70H1159.5V1328.50H1124" fill="none" stroke="#222" stroke-width="1.1"/>
<path d="M1124,1310.70V1328.50" fill="none" stroke="#222" stroke-width="0.9" stroke-opacity="0.55"/>
<text x="1179.2" y="1328.70" font-size="26.5" textLength="267.33" lengthAdjust="spacingAndGlyphs">laryngeal hemorrhage</text>
<rect x="1124" y="1347.30" width="35.5" height="17.8" fill="#C89650"/>
<path d="M1124,1347.30H1159.5V1365.10H1124" fill="none" stroke="#222" stroke-width="1.1"/>
<path d="M1124,1347.30V1365.10" fill="none" stroke="#222" stroke-width="0.9" stroke-opacity="0.55"/>
<text x="1179.2" y="1365.30" font-size="26.5" textLength="387.35" lengthAdjust="spacingAndGlyphs">reproductive organ hemorrhage</text>
<defs>
<pattern id="ld8" patternUnits="userSpaceOnUse" x="1123.8" y="320.73" width="6.72" height="13.44"><rect width="6.72" height="13.44" fill="#FFFFFF"/><rect x="3.3" y="0" width="2" height="2" fill="#000"/><rect x="0" y="6.72" width="2" height="2" fill="#000"/></pattern>
<pattern id="ld10" patternUnits="userSpaceOnUse" x="1123.8" y="396.93" width="6.72" height="13.44"><rect width="6.72" height="13.44" fill="#EAE4C8"/><rect x="3.3" y="0" width="2" height="2" fill="#000"/><rect x="0" y="6.72" width="2" height="2" fill="#000"/></pattern>
<pattern id="ld12" patternUnits="userSpaceOnUse" x="1123.8" y="473.13" width="6.72" height="13.44"><rect width="6.72" height="13.44" fill="#FDE2CC"/><rect x="3.3" y="0" width="2" height="2" fill="#000"/><rect x="0" y="6.72" width="2" height="2" fill="#000"/></pattern>
<pattern id="ld14" patternUnits="userSpaceOnUse" x="1123.8" y="549.33" width="6.72" height="13.44"><rect width="6.72" height="13.44" fill="#FCFAE2"/><rect x="3.3" y="0" width="2" height="2" fill="#000"/><rect x="0" y="6.72" width="2" height="2" fill="#000"/></pattern>
<pattern id="ld16" patternUnits="userSpaceOnUse" x="1123.8" y="625.53" width="6.72" height="13.44"><rect width="6.72" height="13.44" fill="#C8FAC4"/><rect x="3.3" y="0" width="2" height="2" fill="#000"/><rect x="0" y="6.72" width="2" height="2" fill="#000"/></pattern>
<pattern id="ld18" patternUnits="userSpaceOnUse" x="1123.8" y="701.73" width="6.72" height="13.44"><rect width="6.72" height="13.44" fill="#C8F8E6"/><rect x="3.3" y="0" width="2" height="2" fill="#000"/><rect x="0" y="6.72" width="2" height="2" fill="#000"/></pattern>
<pattern id="ld20" patternUnits="userSpaceOnUse" x="1123.8" y="777.93" width="6.72" height="13.44"><rect width="6.72" height="13.44" fill="#C8DCF8"/><rect x="3.3" y="0" width="2" height="2" fill="#000"/><rect x="0" y="6.72" width="2" height="2" fill="#000"/></pattern>
<pattern id="ld22" patternUnits="userSpaceOnUse" x="1123.8" y="854.13" width="6.72" height="13.44"><rect width="6.72" height="13.44" fill="#C0BEFA"/><rect x="3.3" y="0" width="2" height="2" fill="#000"/><rect x="0" y="6.72" width="2" height="2" fill="#000"/></pattern>
<pattern id="lh_pericarditis" patternUnits="userSpaceOnUse" width="16.6" height="40" patternTransform="translate(1135.3,16.33) skewX(-45)"><rect width="16.6" height="40" fill="#00B400"/><rect x="0" width="7.30" height="40" fill="#FFFF00"/></pattern>
<pattern id="lh_pleuro" patternUnits="userSpaceOnUse" width="16.6" height="40" patternTransform="translate(1135.3,54.43) skewX(-45)"><rect width="16.6" height="40" fill="#1A8FC8"/><rect x="0" width="6.97" height="40" fill="#FF5A14"/></pattern>
<pattern id="lh_peritonitis" patternUnits="userSpaceOnUse" width="8.6" height="40" patternTransform="translate(1135.3,92.53) skewX(-45)"><rect width="8.6" height="40" fill="#FAA046"/><rect x="0" width="3.87" height="40" fill="#FFFF00"/></pattern>
<pattern id="d0" patternUnits="userSpaceOnUse" x="233.40" y="635.24" width="6.72" height="13.44"><rect width="6.72" height="13.44" fill="#FFFFFF"/><rect x="3.3" y="0" width="2.2" height="2.1" fill="#000"/><rect x="0" y="6.72" width="2.2" height="2.1" fill="#000"/></pattern>
<pattern id="d1" patternUnits="userSpaceOnUse" x="233.40" y="685.28" width="6.72" height="13.44"><rect width="6.72" height="13.44" fill="#EAE4C8"/><rect x="3.3" y="0" width="2.2" height="2.1" fill="#000"/><rect x="0" y="6.72" width="2.2" height="2.1" fill="#000"/></pattern>
<pattern id="d2" patternUnits="userSpaceOnUse" x="233.40" y="760.34" width="6.72" height="13.44"><rect width="6.72" height="13.44" fill="#FDE2CC"/><rect x="3.3" y="0" width="2.2" height="2.1" fill="#000"/><rect x="0" y="6.72" width="2.2" height="2.1" fill="#000"/></pattern>
<pattern id="d3" patternUnits="userSpaceOnUse" x="233.40" y="835.40" width="6.72" height="13.44"><rect width="6.72" height="13.44" fill="#FCFAE2"/><rect x="3.3" y="0" width="2.2" height="2.1" fill="#000"/><rect x="0" y="6.72" width="2.2" height="2.1" fill="#000"/></pattern>
<pattern id="d4" patternUnits="userSpaceOnUse" x="233.40" y="910.46" width="6.72" height="13.44"><rect width="6.72" height="13.44" fill="#C8FAC4"/><rect x="3.3" y="0" width="2.2" height="2.1" fill="#000"/><rect x="0" y="6.72" width="2.2" height="2.1" fill="#000"/></pattern>
<pattern id="d5" patternUnits="userSpaceOnUse" x="233.40" y="985.52" width="6.72" height="13.44"><rect width="6.72" height="13.44" fill="#C8F8E6"/><rect x="3.3" y="0" width="2.2" height="2.1" fill="#000"/><rect x="0" y="6.72" width="2.2" height="2.1" fill="#000"/></pattern>
<pattern id="d6" patternUnits="userSpaceOnUse" x="233.40" y="1060.58" width="6.72" height="13.44"><rect width="6.72" height="13.44" fill="#C8DCF8"/><rect x="3.3" y="0" width="2.2" height="2.1" fill="#000"/><rect x="0" y="6.72" width="2.2" height="2.1" fill="#000"/></pattern>
<pattern id="d7" patternUnits="userSpaceOnUse" x="233.40" y="1160.66" width="6.72" height="13.44"><rect width="6.72" height="13.44" fill="#C0BEFA"/><rect x="3.3" y="0" width="2.2" height="2.1" fill="#000"/><rect x="0" y="6.72" width="2.2" height="2.1" fill="#000"/></pattern>
<pattern id="d8" patternUnits="userSpaceOnUse" x="500.90" y="647.75" width="6.72" height="13.44"><rect width="6.72" height="13.44" fill="#FFFFFF"/><rect x="3.3" y="0" width="2.2" height="2.1" fill="#000"/><rect x="0" y="6.72" width="2.2" height="2.1" fill="#000"/></pattern>
<pattern id="d9" patternUnits="userSpaceOnUse" x="500.90" y="697.79" width="6.72" height="13.44"><rect width="6.72" height="13.44" fill="#EAE4C8"/><rect x="3.3" y="0" width="2.2" height="2.1" fill="#000"/><rect x="0" y="6.72" width="2.2" height="2.1" fill="#000"/></pattern>
<pattern id="d10" patternUnits="userSpaceOnUse" x="500.90" y="747.83" width="6.72" height="13.44"><rect width="6.72" height="13.44" fill="#FDE2CC"/><rect x="3.3" y="0" width="2.2" height="2.1" fill="#000"/><rect x="0" y="6.72" width="2.2" height="2.1" fill="#000"/></pattern>
<pattern id="d11" patternUnits="userSpaceOnUse" x="500.90" y="797.87" width="6.72" height="13.44"><rect width="6.72" height="13.44" fill="#FCFAE2"/><rect x="3.3" y="0" width="2.2" height="2.1" fill="#000"/><rect x="0" y="6.72" width="2.2" height="2.1" fill="#000"/></pattern>
<pattern id="d12" patternUnits="userSpaceOnUse" x="500.90" y="922.97" width="6.72" height="13.44"><rect width="6.72" height="13.44" fill="#C8FAC4"/><rect x="3.3" y="0" width="2.2" height="2.1" fill="#000"/><rect x="0" y="6.72" width="2.2" height="2.1" fill="#000"/></pattern>
<pattern id="d13" patternUnits="userSpaceOnUse" x="500.90" y="998.03" width="6.72" height="13.44"><rect width="6.72" height="13.44" fill="#C8F8E6"/><rect x="3.3" y="0" width="2.2" height="2.1" fill="#000"/><rect x="0" y="6.72" width="2.2" height="2.1" fill="#000"/></pattern>
<pattern id="d14" patternUnits="userSpaceOnUse" x="500.90" y="1123.13" width="6.72" height="13.44"><rect width="6.72" height="13.44" fill="#C0BEFA"/><rect x="3.3" y="0" width="2.2" height="2.1" fill="#000"/><rect x="0" y="6.72" width="2.2" height="2.1" fill="#000"/></pattern>
<pattern id="d15" patternUnits="userSpaceOnUse" x="500.90" y="747.83" width="6.72" height="13.44"><rect width="6.72" height="13.44" fill="#FDE2CC"/><rect x="3.3" y="0" width="2.2" height="2.1" fill="#000"/><rect x="0" y="6.72" width="2.2" height="2.1" fill="#000"/></pattern>
<pattern id="d16" patternUnits="userSpaceOnUse" x="500.90" y="797.87" width="6.72" height="13.44"><rect width="6.72" height="13.44" fill="#FCFAE2"/><rect x="3.3" y="0" width="2.2" height="2.1" fill="#000"/><rect x="0" y="6.72" width="2.2" height="2.1" fill="#000"/></pattern>
<pattern id="d17" patternUnits="userSpaceOnUse" x="500.90" y="647.75" width="6.72" height="13.44"><rect width="6.72" height="13.44" fill="#FFFFFF"/><rect x="3.3" y="0" width="2.2" height="2.1" fill="#000"/><rect x="0" y="6.72" width="2.2" height="2.1" fill="#000"/></pattern>
<pattern id="d18" patternUnits="userSpaceOnUse" x="500.90" y="697.79" width="6.72" height="13.44"><rect width="6.72" height="13.44" fill="#EAE4C8"/><rect x="3.3" y="0" width="2.2" height="2.1" fill="#000"/><rect x="0" y="6.72" width="2.2" height="2.1" fill="#000"/></pattern>
<pattern id="d19" patternUnits="userSpaceOnUse" x="768.40" y="497.63" width="6.72" height="13.44"><rect width="6.72" height="13.44" fill="#FFFFFF"/><rect x="3.3" y="0" width="2.2" height="2.1" fill="#000"/><rect x="0" y="6.72" width="2.2" height="2.1" fill="#000"/></pattern>
<pattern id="d20" patternUnits="userSpaceOnUse" x="768.40" y="572.69" width="6.72" height="13.44"><rect width="6.72" height="13.44" fill="#EAE4C8"/><rect x="3.3" y="0" width="2.2" height="2.1" fill="#000"/><rect x="0" y="6.72" width="2.2" height="2.1" fill="#000"/></pattern>
<pattern id="d21" patternUnits="userSpaceOnUse" x="768.40" y="647.75" width="6.72" height="13.44"><rect width="6.72" height="13.44" fill="#FDE2CC"/><rect x="3.3" y="0" width="2.2" height="2.1" fill="#000"/><rect x="0" y="6.72" width="2.2" height="2.1" fill="#000"/></pattern>
<pattern id="d22" patternUnits="userSpaceOnUse" x="768.40" y="672.77" width="6.72" height="13.44"><rect width="6.72" height="13.44" fill="#FCFAE2"/><rect x="3.3" y="0" width="2.2" height="2.1" fill="#000"/><rect x="0" y="6.72" width="2.2" height="2.1" fill="#000"/></pattern>
<pattern id="d23" patternUnits="userSpaceOnUse" x="768.40" y="772.85" width="6.72" height="13.44"><rect width="6.72" height="13.44" fill="#C8FAC4"/><rect x="3.3" y="0" width="2.2" height="2.1" fill="#000"/><rect x="0" y="6.72" width="2.2" height="2.1" fill="#000"/></pattern>
<pattern id="d24" patternUnits="userSpaceOnUse" x="768.40" y="847.91" width="6.72" height="13.44"><rect width="6.72" height="13.44" fill="#C8F8E6"/><rect x="3.3" y="0" width="2.2" height="2.1" fill="#000"/><rect x="0" y="6.72" width="2.2" height="2.1" fill="#000"/></pattern>
<pattern id="d25" patternUnits="userSpaceOnUse" x="768.40" y="960.50" width="6.72" height="13.44"><rect width="6.72" height="13.44" fill="#C8DCF8"/><rect x="3.3" y="0" width="2.2" height="2.1" fill="#000"/><rect x="0" y="6.72" width="2.2" height="2.1" fill="#000"/></pattern>
<pattern id="d26" patternUnits="userSpaceOnUse" x="768.40" y="1060.58" width="6.72" height="13.44"><rect width="6.72" height="13.44" fill="#C0BEFA"/><rect x="3.3" y="0" width="2.2" height="2.1" fill="#000"/><rect x="0" y="6.72" width="2.2" height="2.1" fill="#000"/></pattern>
</defs>
</svg>
</body></html>
